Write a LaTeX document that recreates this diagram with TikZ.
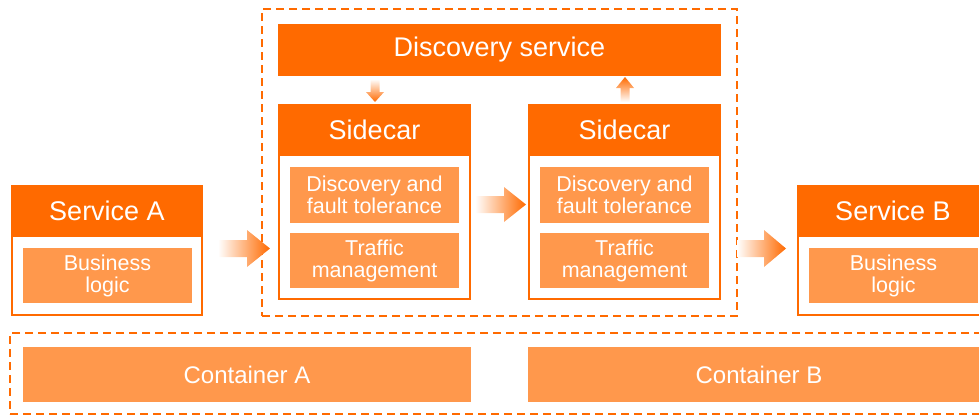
\documentclass[tikz,border=0pt]{standalone}
\usepackage{fontspec}
\setmainfont{Liberation Sans}
\usetikzlibrary{calc,fit}
\definecolor{dk}{HTML}{FF6A00}
\definecolor{lt}{HTML}{FF984C}
\tikzset{
  hdr/.style={fill=dk, draw=none, inner sep=0pt, text=white, font=\fontsize{27}{30}\selectfont},
  frame/.style={draw=dk, line width=2pt, fill=white, inner sep=0pt},
  inbox/.style={fill=lt, draw=none, inner sep=0pt, text=white, align=center, font=\fontsize{21.5}{22}\selectfont},
  cbox/.style={fill=lt, draw=none, inner sep=0pt, text=white, font=\fontsize{24}{27}\selectfont},
  dbox/.style={draw=dk, line width=2.3pt, dash pattern=on 8pt off 5pt, inner sep=0pt},
  hshade/.style={left color=white, right color=dk, draw=none},
  vdown/.style={top color=white, bottom color=dk, draw=none},
  vup/.style={top color=dk, bottom color=white, draw=none},
}
\begin{document}
\begin{tikzpicture}[x=1pt,y=-1pt]
\useasboundingbox (0,0) rectangle (979,416);
\begin{scope}
\clip (0,0) rectangle (979,416);
% dashed groups
\node[dbox, fit={(262,9)(737,316)}] (grp) {};
\node[dbox, fit={(10,333)(995,414)}] (cgrp) {};
% discovery service
\node[hdr, fit={(278,24)(721,76)}] (ds) {};
\node[hdr] at (ds.center) {Discovery service};
% Service A
\node[frame, fit={(12,186)(202,315)}] (saf) {};
\node[hdr, fit={(11,185)(203,237)}] (sah) {};
\node[hdr] at (sah.center) {Service A};
\node[inbox, fit={(23,248)(192,303)}] (sab) {};
\node[inbox] at (sab.center) {Business\\logic};
% Service B
\node[frame, fit={(798,186)(988,315)}] (sbf) {};
\node[hdr, fit={(797,185)(989,237)}] (sbh) {};
\node[hdr] at (sbh.center) {Service B};
\node[inbox, fit={(809,248)(978,303)}] (sbb) {};
\node[inbox] at (sbb.center) {Business\\logic};
% Sidecar 1
\node[frame, fit={(279,105)(470,299)}] (s1f) {};
\node[hdr, fit={(278,104)(471,156)}] (s1h) {};
\node[hdr] at (s1h.center) {Sidecar};
\node[inbox, fit={(290,167)(459,223)}] (s1a) {};
\node[inbox] at (s1a.center) {Discovery and\\fault tolerance};
\node[inbox, fit={(290,233)(459,288)}] (s1b) {};
\node[inbox] at (s1b.center) {Traffic\\management};
% Sidecar 2
\node[frame, fit={(529,105)(720,299)}] (s2f) {};
\node[hdr, fit={(528,104)(721,156)}] (s2h) {};
\node[hdr] at (s2h.center) {Sidecar};
\node[inbox, fit={(540,167)(709,223)}] (s2a) {};
\node[inbox] at (s2a.center) {Discovery and\\fault tolerance};
\node[inbox, fit={(540,233)(709,288)}] (s2b) {};
\node[inbox] at (s2b.center) {Traffic\\management};
% containers
\node[cbox, fit={(23,347)(471,402)}] (ca) {};
\node[cbox] at (ca.center) {Container A};
\node[cbox, fit={(528,347)(990,402)}] (cb) {};
\node[cbox] at (cb.center) {Container B};
% arrows
\shade[hshade] (218,240) -- (247,240) -- (247,230) -- (270,248.5) -- (247,267) -- (247,257) -- (218,257) -- cycle;
\shade[hshade] (475,196) -- (504,196) -- (504,187) -- (526,204.5) -- (504,222) -- (504,213) -- (475,213) -- cycle;
\shade[hshade] (737,240) -- (764,240) -- (764,230) -- (786,248.5) -- (764,267) -- (764,257) -- (737,257) -- cycle;
\shade[vdown] (370.5,79) -- (379.5,79) -- (379.5,92) -- (384,92) -- (375,102) -- (366,92) -- (370.5,92) -- cycle;
\shade[vup] (620.5,102) -- (629.5,102) -- (629.5,88) -- (634,88) -- (625,77) -- (616,88) -- (620.5,88) -- cycle;
\end{scope}
\end{tikzpicture}
\end{document}
